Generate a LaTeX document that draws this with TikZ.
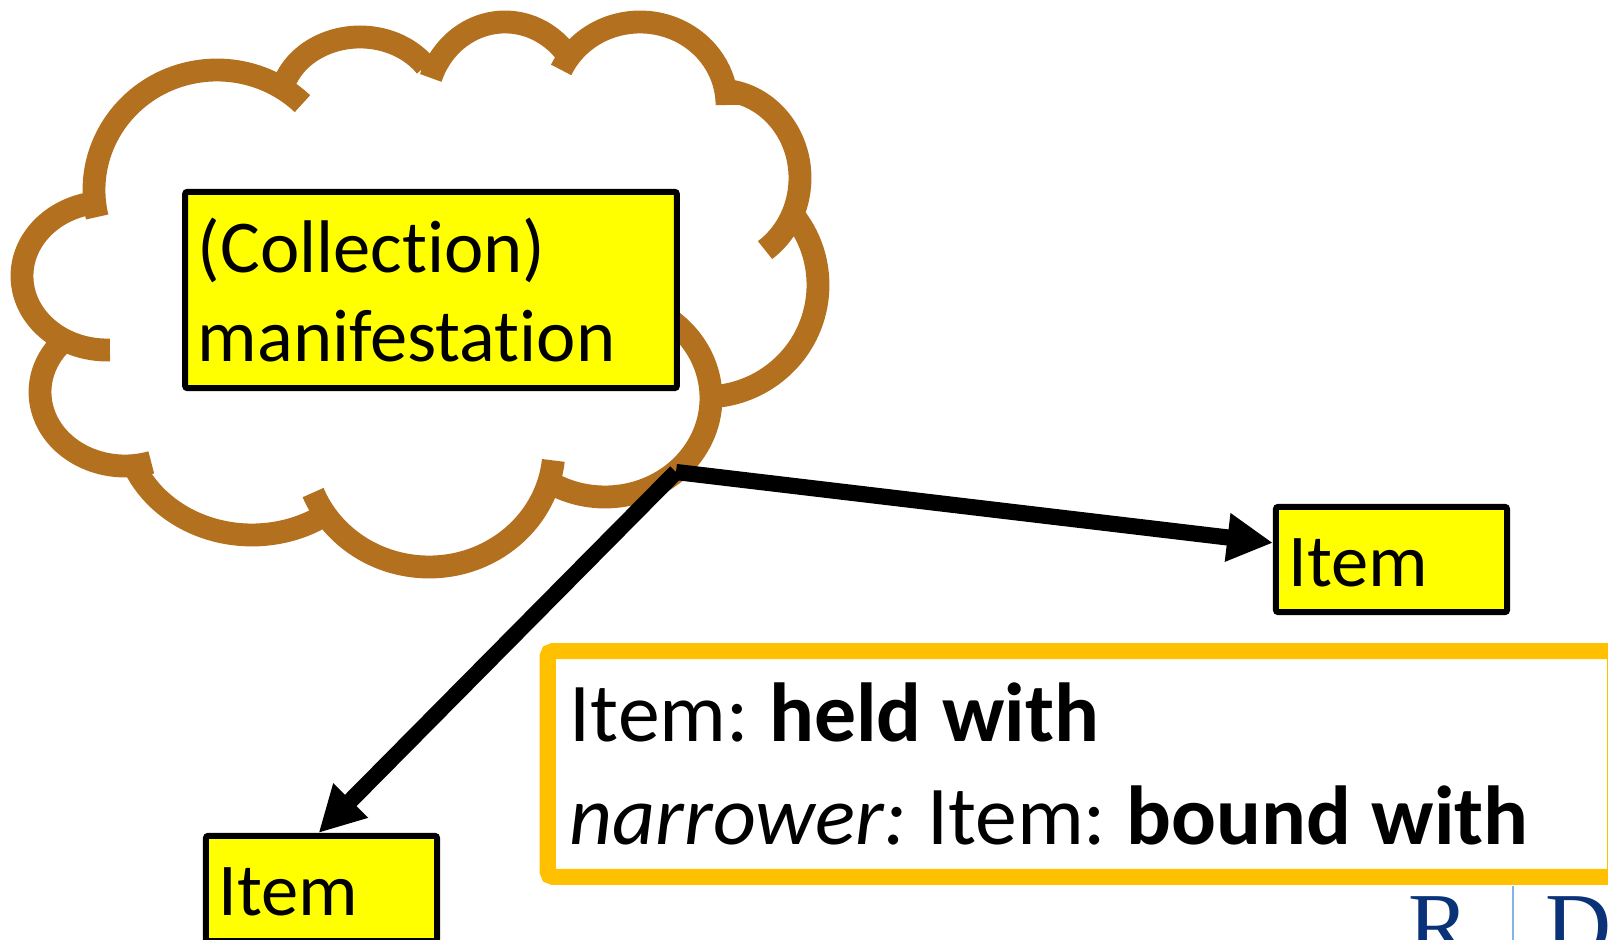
\documentclass[tikz,border=0pt]{standalone}
\usepackage{fontspec}
\setmainfont{Carlito}[Ligatures=NoCommon]
\newfontfamily\logofont{Liberation Serif}
\usetikzlibrary{arrows.meta}
\definecolor{cloudbrown}{RGB}{179,113,32}
\definecolor{boxyellow}{RGB}{255,255,0}
\definecolor{noteorange}{RGB}{255,192,0}
\definecolor{logoblue}{RGB}{10,50,120}
\definecolor{logoline}{RGB}{130,180,235}
\newcommand{\notespacing}{\frenchspacing\spaceskip 5.8pt\relax}

\begin{document}
\begin{tikzpicture}[x=0.01cm,y=-0.01cm,>={Triangle[length=13pt,width=13pt]},
  cloud line/.style={draw=cloudbrown,line width=6.5pt},
  main node/.style={rectangle,fill=boxyellow,draw=black,line width=1.7pt,rounded corners=0.6pt,
    align=left,inner xsep=3.6pt,inner ysep=0pt,font=\fontsize{21.2}{25.2}\selectfont},
  item node/.style={main node,text width=58.5pt,minimum height=29.9pt,text height=15.4pt,text depth=0pt},
  note node/.style={rectangle,fill=white,draw=noteorange,line width=4.6pt,rounded corners=1.5pt,
    align=left,inner xsep=6.3pt,inner ysep=0pt,text width=291pt,minimum height=64.2pt,
    font=\fontsize{23.8}{29.3}\selectfont},
  logo node/.style={inner sep=0pt,anchor=base west,text=logoblue,font=\fontsize{26}{26}\selectfont\logofont}]

  \useasboundingbox (0,0) rectangle (1608,940);
  \clip (0,0) rectangle (1608,940);

  % cloud
  \path[cloud line]
    ([shift={(217,190)}]167:123 and 120) arc[start angle=167,end angle=314,x radius=123,y radius=120]
    ([shift={(360,105)}]200:80 and 68) arc[start angle=200,end angle=325,x radius=80,y radius=68]
    ([shift={(505,107)}]200:79 and 85) arc[start angle=200,end angle=322,x radius=79,y radius=85]
    ([shift={(640,105)}]205:87 and 83) arc[start angle=205,end angle=360,x radius=87,y radius=83]
    ([shift={(718,178)}]275:82 and 88) arc[start angle=275,end angle=415,x radius=82,y radius=88]
    ([shift={(705,285)}]-38:113 and 112) arc[start angle=-38,end angle=85,x radius=113,y radius=112]
    ([shift={(605,398)}]-55:106 and 99) arc[start angle=-55,end angle=120,x radius=106,y radius=99]
    ([shift={(429,448)}]6:125 and 119) arc[start angle=6,end angle=158,x radius=125,y radius=119]
    ([shift={(252,422)}]55:128 and 113) arc[start angle=55,end angle=159,x radius=128,y radius=113]
    ([shift={(125,392)}]72:85 and 74) arc[start angle=72,end angle=222,x radius=85,y radius=74]
    ([shift={(107,276)}]88:85 and 74) arc[start angle=88,end angle=260,x radius=85,y radius=74];

  \node[main node,text width=132.6pt,minimum height=55.8pt] (manifestation) at (431,290)
    {(Collection)\\manifestation};
  \node[item node] (item right) at (1391.5,559.5) {Item};
  \node[item node] (item lower) at (321.5,888.5) {Item};
  \node[note node] (note) at (1081.5,764)
    {\notespacing Item: \textbf{held with}\\\textit{narrower:} Item: \textbf{bound with}};

  \coordinate (hub) at (676,472);
  \path[->,line width=4.6pt]
    (hub) edge (item right.172)
    (hub) edge (item lower.93)
    ;

  % logo under the note
  \node[logo node] (logo r) at (1408,956) {R};
  \node[logo node] (logo d) at (1545,956) {D};
  \draw[logoline,line width=0.5pt] (1513,886) -- (1513,940);

\end{tikzpicture}
\end{document}
